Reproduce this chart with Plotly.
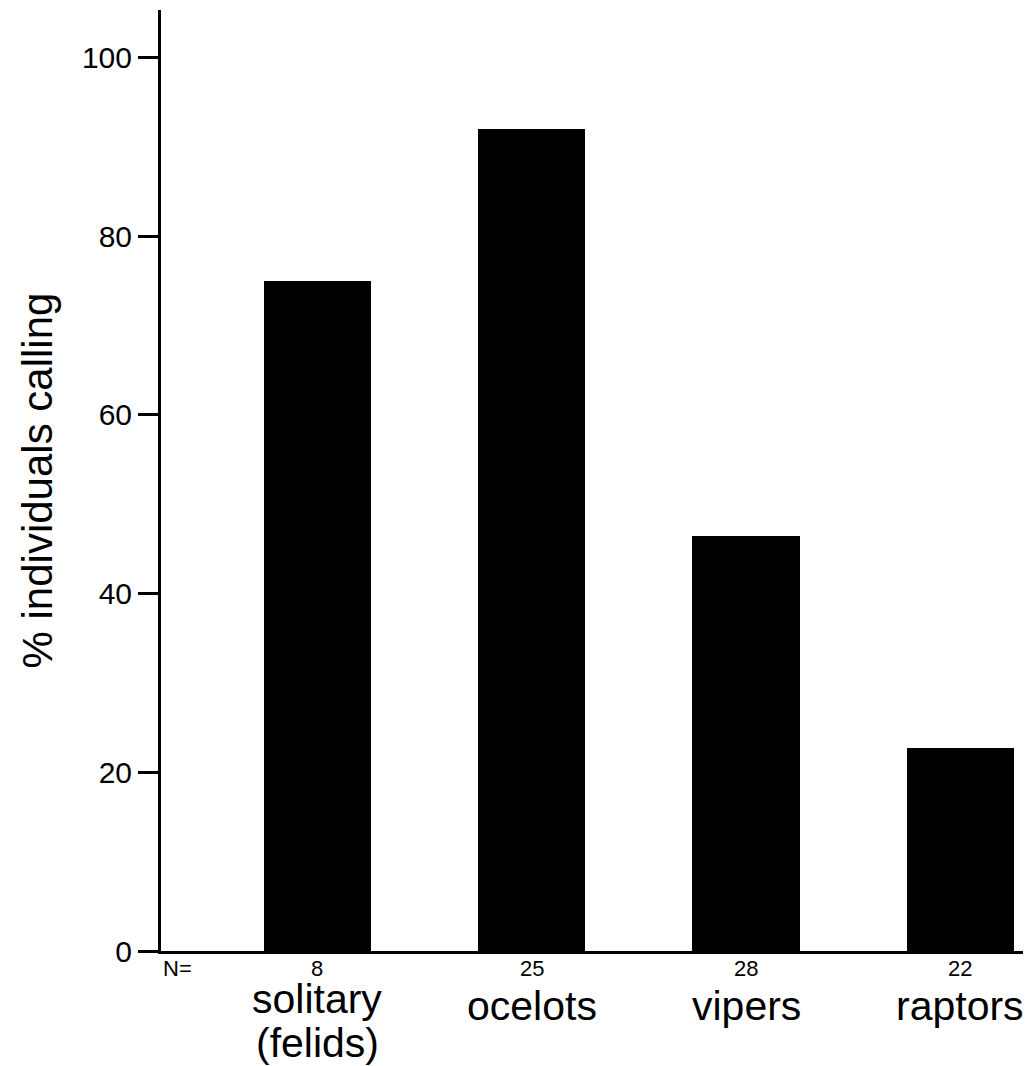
import plotly.graph_objects as go

categories = ["solitary", "ocelots", "vipers", "raptors"]
sub_labels = ["(felids)", "", "", ""]
n_values = ["8", "25", "28", "22"]
percent_calling = [75.0, 92.0, 46.4, 22.7]
y_ticks = [0, 20, 40, 60, 80, 100]

x_pos = list(range(len(categories)))

fig = go.Figure()
fig.add_trace(go.Bar(
    x=x_pos, y=percent_calling, width=0.5,
    marker=dict(color="black", line=dict(width=0)),
))

font_family = "Arial, Liberation Sans, Helvetica, sans-serif"

for xi, n, cat, sub in zip(x_pos, n_values, categories, sub_labels):
    fig.add_annotation(x=xi, y=0, xref="x", yref="y", text=n, showarrow=False,
                       yanchor="middle", yshift=-17, font=dict(size=22, color="black", family=font_family))
    two_line = bool(sub)
    fig.add_annotation(x=xi, y=0, xref="x", yref="y", text=cat, showarrow=False,
                       yanchor="middle", yshift=-48 if two_line else -55,
                       font=dict(size=41, color="black", family=font_family))
    if two_line:
        fig.add_annotation(x=xi, y=0, xref="x", yref="y", text=sub, showarrow=False,
                           yanchor="middle", yshift=-92,
                           font=dict(size=41, color="black", family=font_family))

fig.add_annotation(x=-0.73, y=0, xref="x", yref="y", text="N=", showarrow=False,
                   xanchor="left", yanchor="middle", yshift=-17, xshift=0,
                   font=dict(size=22, color="black", family=font_family))

fig.add_annotation(x=0, y=0.5, xref="paper", yref="paper", text="% individuals calling",
                   showarrow=False, textangle=-90, xanchor="center", yanchor="middle",
                   xshift=-124, font=dict(size=42, color="black", family=font_family))

fig.update_layout(
    width=1023, height=1058,
    margin=dict(l=153, r=0, t=2, b=115),
    plot_bgcolor="white", paper_bgcolor="white",
    showlegend=False,
    font=dict(family=font_family, color="black"),
    bargap=0,
)
fig.update_xaxes(range=[-0.73, 3.33], showticklabels=False, ticks="", automargin=False,
                 showline=True, linecolor="black", linewidth=3, showgrid=False, zeroline=False)
fig.update_yaxes(range=[0, 105.3], tickvals=y_ticks, ticks="outside", ticklen=20, tickwidth=3,
                 tickcolor="black", showline=True, linecolor="black", linewidth=3, automargin=False,
                 showgrid=False, zeroline=False, tickfont=dict(size=30, color="black", family=font_family))

fig.write_html("out.html")
